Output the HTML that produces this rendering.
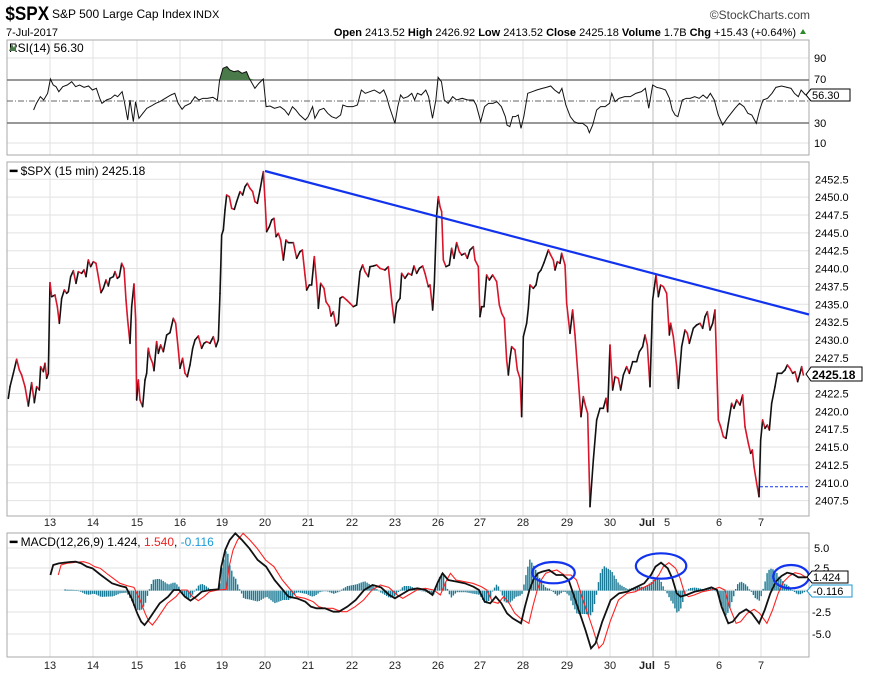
<!DOCTYPE html>
<html><head><meta charset="utf-8">
<style>
body{margin:0;background:#fff;}
svg{display:block;font-family:"Liberation Sans",Arial,sans-serif;}
</style></head>
<body>
<svg id="s" width="878" height="681" viewBox="0 0 878 681" xmlns="http://www.w3.org/2000/svg">
<rect width="878" height="681" fill="#fff"/>
<text x="6" y="20" font-size="19" font-weight="bold" fill="#000" transform="scale(0.9,1)">$SPX</text>
<text x="52" y="18" font-size="12" fill="#000">S&amp;P 500 Large Cap Index</text>
<text x="193" y="18" font-size="11" fill="#000">INDX</text>
<text x="810" y="19" font-size="12" fill="#444" text-anchor="end">©StockCharts.com</text>
<text x="6" y="36" font-size="11" fill="#000">7-Jul-2017</text>
<text x="796" y="36" font-size="11" fill="#000" text-anchor="end"><tspan font-weight="bold">Open</tspan> 2413.52 <tspan font-weight="bold">High</tspan> 2426.92 <tspan font-weight="bold">Low</tspan> 2413.52 <tspan font-weight="bold">Close</tspan> 2425.18 <tspan font-weight="bold">Volume</tspan> 1.7B <tspan font-weight="bold">Chg</tspan> +15.43 (+0.64%)</text>
<polygon points="800,34 806,34 803,29" fill="#2a8a2a"/>
<g id="grid"></g>
<rect x="7" y="40" width="802" height="115" fill="none" stroke="#aaa"/>
<rect x="7" y="162" width="802" height="354" fill="none" stroke="#aaa"/>
<rect x="7" y="533" width="802" height="124" fill="none" stroke="#aaa"/>
<line x1="7" y1="80" x2="809" y2="80" stroke="#777" stroke-width="1.6"/>
<line x1="7" y1="123" x2="809" y2="123" stroke="#777" stroke-width="1.6"/>
<line x1="7" y1="101" x2="809" y2="101" stroke="#666" stroke-dasharray="6,2,1,2"/>
<g font-size="11" fill="#000">
<text x="814" y="62">90</text><text x="814" y="83">70</text><text x="814" y="127">30</text><text x="814" y="147">10</text>
</g>
<text x="9" y="52" font-size="12" fill="#000">  RSI(14) 56.30</text>
<path d="M9,51 L12,44 L14,48 L16,42 L16,51Z" fill="#4a7a4a"/>
<g id="rsi"></g>
<polygon points="806,95 811,89 850,89 850,101 811,101" fill="#fff" stroke="#000"/>
<text x="812" y="99" font-size="11">56.30</text>
<g id="pl" font-size="11" fill="#000"></g>
<text x="10" y="175" font-size="12"><tspan font-weight="bold">━</tspan> $SPX (15 min) 2425.18</text>
<g id="price"></g>
<line x1="265" y1="171" x2="809" y2="314.5" stroke="#1133ee" stroke-width="2.2"/>
<line x1="760" y1="486.7" x2="809" y2="486.7" stroke="#1133ee" stroke-dasharray="3,2"/>
<polygon points="806,374 811,367 862,367 862,381 811,381" fill="#fff" stroke="#000"/>
<text x="812" y="379" font-size="12" font-weight="bold">2425.18</text>
<g id="dates" font-size="11" fill="#222" text-anchor="middle"></g>
<g font-size="11" fill="#000">
<text x="814" y="552">5.0</text><text x="814" y="572">2.5</text><text x="812" y="616">-2.5</text><text x="812" y="638">-5.0</text>
</g>
<text x="10" y="546" font-size="12"><tspan font-weight="bold">━</tspan> MACD(12,26,9) 1.424, <tspan fill="#e22">1.540</tspan>, <tspan fill="#1a9ad6">-0.116</tspan></text>
<g id="macd"></g>
<polygon points="807,577 812,571 848,571 848,583 812,583" fill="#fff" stroke="#000"/>
<text x="813" y="581" font-size="11">1.424</text>
<polygon points="807,591 812,585 852,585 852,597 812,597" fill="#fff" stroke="#1a9ad6"/>
<text x="813" y="595" font-size="11">-0.116</text>
</svg>
<script>
var NS="http://www.w3.org/2000/svg";
function el(p,t,a){var e=document.createElementNS(NS,t);for(var k in a)e.setAttribute(k,a[k]);p.appendChild(e);return e;}
var grid=document.getElementById('grid');
var dx=[50,93,137,180,222,265,308,352,395,438,480,523,567,610,653,676,719,761];
var dl=["13","14","15","16","19","20","21","22","23","26","27","28","29","30","Jul","5","6","7"];
dx.forEach(function(x,i){
 [[40,155],[162,516],[533,657]].forEach(function(r){el(grid,'line',{x1:x,y1:r[0],x2:x,y2:r[1],stroke:i==14?'#bbb':'#e2e2e2'});});
});
for(var i=0;i<=18;i++){var y=179.3+i*17.85;el(grid,'line',{x1:7,y1:y,x2:809,y2:y,stroke:'#e2e2e2'});
 var t=el(document.getElementById('pl'),'text',{x:815,y:y+4});t.textContent=(2452.5-i*2.5).toFixed(1);}
[58,143].forEach(function(y){el(grid,'line',{x1:7,y1:y,x2:809,y2:y,stroke:'#e2e2e2'});});
[548,568,590,612,634].forEach(function(y){el(grid,'line',{x1:7,y1:y,x2:809,y2:y,stroke:'#e2e2e2'});});
var dg=document.getElementById('dates');
dx.forEach(function(x,i){var xx=x+(i==14?-6:0)+(i==15?-9:0);
 [526,669].forEach(function(y){var t=el(dg,'text',{x:xx,y:y,'font-weight':i==14?'bold':'normal'});t.textContent=dl[i];});});
function P(a){var r=[];for(var i=0;i<a.length;i+=2)r.push([a[i],a[i+1]]);return r;}
var p3=P([25,715,30,680,40,640,50,598,58,630,65,645,75,680,85,738,95,668,103,728,110,680,118,690,122,620,130,635,135,610,140,655,145,640,150,368,155,410,165,405,172,440,178,490,185,415,193,390,200,400,205,395,212,350,220,332,228,370,235,335,245,340,252,330,258,350,265,300,272,320,280,305,288,310,295,350,303,398,310,385,318,360,325,378,330,355,340,350,345,335,352,355,358,350,365,310,372,325,378,420,383,480,390,550,395,440,402,372,407,480,410,720,415,660,420,720,428,740,435,660,440,640,445,565,450,590,458,610,462,632,470,545,475,580,482,555,490,575,500,525,510,518,520,475,527,490,535,570,540,625,548,595,555,640,562,650,570,615,578,565,585,540,595,528,605,565,612,550,620,545,630,550,640,530,648,560,655,540,660,400,665,225,670,210,675,150,680,105,688,110,695,145,703,148,710,125,720,95,728,105,735,80,742,70,750,85,758,95,765,125,772,130,780,90,790,35,795,120,800,215,808,200,815,180,822,175,828,230,835,220,842,240,850,300,858,240,865,248,880,248,890,295,900,275,907,270,915,345,920,390,928,375,935,375,943,290,950,370,955,445,962,370,972,385,978,425,988,440,993,468,1000,455,1008,498,1015,490,1020,415,1028,410,1040,420,1050,430,1060,440,1070,435,1080,335,1088,315,1095,335,1105,350,1110,320,1120,318,1130,315,1140,325,1155,330,1165,320,1175,420,1183,488,1190,430,1200,415,1205,340,1215,355,1225,340,1235,345,1242,318,1250,340,1258,325,1268,318,1275,340,1285,380,1290,375,1298,450,1303,370,1310,165,1315,110]).map(function(p){return[p[0]/3,160+p[1]/3];});
var p4=P([30,140,35,155,40,300,48,320,58,315,65,265,72,295,80,248,88,275,95,285,105,280,112,295,120,270,130,260,135,300,145,320,150,470,155,440,162,440,170,345,178,360,188,345,200,365,208,435,215,460,223,475,230,600,235,645,240,595,245,560,255,570,262,630,270,655,275,770,280,530,290,490,295,445,300,375,310,385,318,375,325,340,333,330,342,308,350,285,355,270,362,285,370,300,375,330,382,305,390,310,395,280,405,315,410,430,420,520,428,450,435,525,445,660,453,770,460,710,467,740,473,760,480,1040,490,900,500,780,510,745,520,745,528,715,533,755,540,555,548,690,555,650,565,655,572,690,580,645,590,620,598,640,608,605,620,605,628,575,638,560,645,525,652,555,660,680,668,420,678,345,685,410,692,375,700,380,710,400,718,525,722,490,730,530,740,620,745,685,755,560,765,510,772,520,778,550,790,505,800,495,810,490,818,505,825,470,832,455,840,510,848,490,855,450,865,780,872,800,880,830,888,835,895,790,905,730,912,745,920,720,930,735,938,705,945,800,955,850,962,880,967,870,972,920,980,970,987,1010,992,840,998,780,1005,805,1012,795,1018,810,1025,730,1035,680,1042,640,1055,640,1065,630,1072,615,1080,625,1088,640,1095,635,1103,665,1110,640,1115,620,1120,645]).map(function(p){return[430+p[0]/3,160+p[1]/3];});
var pr=p3.concat(p4);var pg=document.getElementById('price');
for(var i=1;i<pr.length;i++){var a=pr[i-1],b=pr[i];el(pg,'line',{x1:a[0],y1:a[1],x2:b[0],y2:b[1],stroke:b[1]>a[1]?'#d8152a':'#111','stroke-width':1.6,'stroke-linecap':'round'});}
var XF=1.785;
var rs=P([60,330,65,310,72,290,78,300,85,280,90,237,95,255,100,260,105,275,112,260,120,255,128,245,135,260,142,255,150,262,158,258,165,270,172,265,178,295,182,310,190,300,198,295,205,285,210,290,218,275,222,305,228,360,232,300,238,365,242,305,248,355,255,340,262,325,270,318,278,310,285,305,295,295,305,285,312,280,318,310,325,328,330,318,340,310,348,290,355,300,362,295,370,295,380,292,388,300,392,240,398,205,405,200,410,210,418,215,425,212,432,220,440,215,445,235,455,265,462,250,470,237,475,320,482,318,490,325,500,320,508,330,515,345,522,320,528,330,535,345,545,360,550,350,558,320,562,355,570,330,578,325,585,340,592,350,600,355,608,345,612,315,620,320,630,320,638,315,645,270,652,280,660,275,668,270,678,280,685,270,690,290,695,320,700,345,705,370,710,320,715,285,720,295,728,290,735,280,740,300,745,280,752,285,760,270,765,290,772,355,778,300,782,232,788,245,793,300,800,310,808,290,815,300,825,295,835,300,845,300,850,315,858,365,865,320,872,310,880,310,887,305,895,320,902,350,905,375,910,380,915,350,920,350,925,345,930,385,935,350,942,280,950,275,958,270,968,265,975,262,983,258,990,270,998,280,1003,265,1010,315,1018,350,1025,365,1032,370,1040,370,1048,380,1052,398,1058,375,1065,330,1072,320,1080,320,1088,310,1092,280,1098,305,1105,295,1115,290,1125,290,1135,280,1145,275,1152,265,1158,325,1165,255,1172,262,1180,265,1188,270,1195,295,1200,330,1205,345,1210,350,1218,300,1225,295,1232,295,1240,290,1248,295,1255,285,1262,295,1268,280,1275,300,1282,345,1290,375,1298,355,1305,340,1312,325,1320,310,1328,320,1335,340,1342,345,1350,370,1356,330,1362,300,1370,295,1378,280,1385,262,1395,258,1405,262,1412,265,1418,280,1425,290,1430,270,1438,285]).map(function(p){return[p[0]/XF,p[1]/3];});
var rg=document.getElementById('rsi');
var fill=rs.filter(function(p){return p[0]>=392/XF&&p[0]<=470/XF;});
var fp="M"+(392/XF)+",80 "+fill.map(function(p){return"L"+p[0]+","+Math.min(p[1],80);}).join(" ")+" L"+(470/XF)+",80Z";
el(rg,'path',{d:fp,fill:'#4a7a4a'});
el(rg,'polyline',{points:rs.map(function(p){return p.join(',')}).join(' '),fill:'none',stroke:'#111','stroke-width':1});
var mb=P([90,225,95,195,105,190,115,188,125,186,135,185,145,190,155,200,165,205,180,225,200,250,215,258,225,262,235,295,245,340,252,365,258,375,265,360,275,335,285,310,300,290,310,270,320,270,330,290,340,302,350,290,360,275,375,270,390,268,395,200,402,150,410,120,420,100,432,120,445,145,460,180,475,200,490,240,505,270,515,290,530,295,545,305,555,320,565,325,580,325,595,335,605,335,620,320,635,300,650,270,665,255,680,262,695,285,705,295,715,285,730,270,745,265,760,270,772,285,782,245,790,220,800,240,815,245,830,250,845,260,855,270,865,305,875,310,885,290,895,310,905,340,915,355,930,370,937,320,945,270,952,240,960,220,968,215,980,210,993,225,1005,225,1015,240,1025,290,1035,340,1045,390,1055,445,1063,430,1075,365,1090,300,1105,280,1120,275,1135,262,1150,250,1162,225,1170,200,1180,188,1192,205,1200,235,1208,280,1215,290,1225,285,1240,275,1255,270,1270,262,1280,270,1288,320,1300,370,1308,365,1320,340,1332,328,1342,340,1355,370,1365,330,1375,280,1385,245,1395,228,1405,218,1415,222,1425,232,1440,232]);
function interp(arr,x){if(x<=arr[0][0])return arr[0][1];for(var i=1;i<arr.length;i++){if(arr[i][0]>=x){var a=arr[i-1],b=arr[i];return a[1]+(b[1]-a[1])*(x-a[0])/(b[0]-a[0]);}}return arr[arr.length-1][1];}
var mr=mb.map(function(p){return[p[0]+14,p[1]];});
var mg=document.getElementById('macd');
var clipY=function(y){return Math.max(y,100);};
for(var x=115;x<=1440;x+=3.5){var bv=interp(mb,x),rv=interp(mr,x);var h=(rv-bv)*1.0;var y0=272,y1=Math.max(272-h,100);
 var Y0=500+Math.min(y0,y1)/3,Y1=500+Math.max(y0,y1)/3;el(mg,'rect',{x:x/XF,y:Y0,width:1.4,height:Math.max(Y1-Y0,0.6),fill:'#1b7a95'});}
el(mg,'polyline',{points:mr.map(function(p){return(p[0]/XF)+','+(500+clipY(p[1])/3)}).join(' '),fill:'none',stroke:'#f22','stroke-width':1.1});
el(mg,'polyline',{points:mb.map(function(p){return(p[0]/XF)+','+(500+clipY(p[1])/3)}).join(' '),fill:'none',stroke:'#111','stroke-width':1.8});
[[988,218,38,32],[1180,198,45,38],[1412,230,32,35]].forEach(function(c){el(mg,'ellipse',{cx:c[0]/XF,cy:500+c[1]/3,rx:c[2]/XF,ry:c[3]/3,fill:'none',stroke:'#1133ee','stroke-width':2.2});});
</script>
</body></html>
